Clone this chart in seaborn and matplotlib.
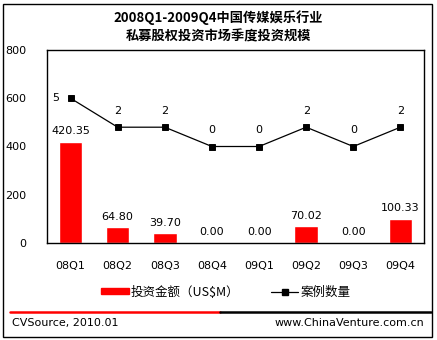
import matplotlib
matplotlib.use("Agg")
import matplotlib.pyplot as plt
import seaborn as sns
import numpy as np
import pandas as pd
from matplotlib.patches import Rectangle
from matplotlib.lines import Line2D

quarters = ["08Q1", "08Q2", "08Q3", "08Q4", "09Q1", "09Q2", "09Q3", "09Q4"]
amounts = [420.35, 64.80, 39.70, 0.00, 0.00, 70.02, 0.00, 100.33]
counts = [5, 2, 2, 0, 0, 2, 0, 2]
yticks = [0, 200, 400, 600, 800]
title = "2008Q1-2009Q4中国传媒娱乐行业\n私募股权投资市场季度投资规模"
bar_label = "投资金额（US$M）"
line_label = "案例数量"
source_left = "CVSource, 2010.01"
source_right = "www.ChinaVenture.com.cn"

sns.set_theme(style="white")
plt.rcParams["font.family"] = ["DejaVu Sans", "Noto Sans CJK SC"]
plt.rcParams["text.color"] = "black"
plt.rcParams["axes.labelcolor"] = "black"

W, H = 437, 340
fig = plt.figure(figsize=(W / 100, H / 100), dpi=100)
fig.patch.set_facecolor("white")

def fx(px):
    return px / W

def fy(py):
    return 1 - py / H

ax = fig.add_axes([fx(47), fy(243), fx(424) - fx(47), fy(50) - fy(243)])
df = pd.DataFrame({"q": quarters, "amt": amounts, "cnt": counts})

sns.barplot(data=df, x="q", y="amt", ax=ax, color="#ff0000", saturation=1, width=0.5)
ax.set_ylim(0, 800)
ax.set_yticks(yticks)
ax.set_xlabel("")
ax.set_ylabel("")
ax.tick_params(axis="both", length=0, labelsize=8, colors="black")
ax.tick_params(axis="y", pad=15)
ax.tick_params(axis="x", pad=13)
for s in ax.spines.values():
    s.set_color("black")
    s.set_linewidth(1)
    s.set_visible(True)
for c in ax.containers:
    ax.bar_label(c, fmt="%.2f", padding=4, fontsize=8, color="black")

ax2 = ax.twinx()
sns.pointplot(data=df, x="q", y="cnt", ax=ax2, color="black", markers="s",
              markersize=5, linewidth=0.9)
ax2.set_ylim(-10, 10)
ax2.set_yticks([])
ax2.set_ylabel("")
ax2.set_xlabel("")
for s in ax2.spines.values():
    s.set_visible(False)
for i, v in enumerate(counts):
    if i == 0:
        ax2.annotate(str(v), (i, v), xytext=(-11, 0), textcoords="offset points",
                     ha="center", va="center", fontsize=8, color="black")
    else:
        ax2.annotate(str(v), (i, v), xytext=(0, 8), textcoords="offset points",
                     ha="center", va="bottom", fontsize=8, color="black")
ax.set_xlim(-0.5, len(quarters) - 0.5)
ax2.set_xlim(-0.5, len(quarters) - 0.5)

fig.text(0.5, fy(27), title, ha="center", va="center", fontsize=9.5,
         fontweight="bold", family=["Noto Sans CJK SC"], linespacing=1.4,
         color="black")

handles = [Rectangle((0, 0), 1, 1, color="#ff0000"),
           Line2D([0], [0], color="black", marker="s", markersize=5, linewidth=0.9)]
leg = fig.legend(handles, [bar_label, line_label], loc="center",
                 bbox_to_anchor=(fx(226), fy(292)), ncol=2, frameon=False,
                 prop={"family": ["Noto Sans CJK SC", "DejaVu Sans"], "size": 9},
                 handlelength=2.2, handleheight=0.35, columnspacing=2.5,
                 handletextpad=0.2)
for t in leg.get_texts():
    t.set_color("black")

fig.add_artist(Line2D([fx(10), fx(220)], [fy(312), fy(312)], color="#ff0000", linewidth=1.8))
fig.add_artist(Line2D([fx(220), fx(431)], [fy(312), fy(312)], color="black", linewidth=1.8))
fig.text(fx(12), fy(323), source_left, ha="left", va="center", fontsize=8, color="black")
fig.text(fx(424), fy(323), source_right, ha="right", va="center", fontsize=8, color="black")

fig.add_artist(Rectangle((fx(3), fy(337)), fx(432) - fx(3), fy(4) - fy(337),
                         fill=False, edgecolor="black", linewidth=1,
                         transform=fig.transFigure))

fig.savefig("out.png", dpi=100)
